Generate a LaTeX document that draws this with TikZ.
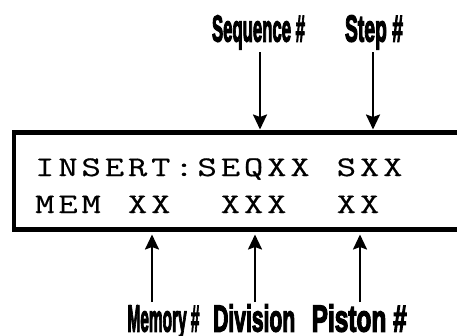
\documentclass[tikz,border=0pt]{standalone}
\usepackage{fontspec}
\usetikzlibrary{arrows.meta}
\newfontfamily\labfont{Liberation Sans Bold}[FakeBold=4]
\newfontfamily\lcdfam{Latin Modern Mono}[FakeBold=0.4]
\def\lcdstop{LCDSTOP}
\newcommand\lcdtext[1]{\lcdloop#1\lcdstop}
\def\lcdloop#1{\ifx#1\lcdstop\else\makebox[23.2pt]{\scalebox{1.32}[1]{#1}}\expandafter\lcdloop\fi}
\newcommand\labw[2]{\resizebox{#1}{\height}{#2}}
\tikzset{
  lcdfont/.style={anchor=base west, inner sep=0pt, font=\fontsize{28.5}{30}\selectfont\lcdfam},
  lab/.style={anchor=base, inner sep=0pt, font=\fontsize{37.5}{40}\selectfont\labfont},
  ptr/.style={line width=2.2pt, -{Stealth[length=15pt, width=14pt, inset=2.5pt]}},
  frame/.style={line width=4.8pt}
}
\begin{document}
\begin{tikzpicture}[x=1pt, y=-1pt]
\useasboundingbox (0,0) rectangle (457,335);
\clip (0,0) rectangle (457,335);
\draw[frame] (480,132.5) -- (14,132.5) -- (14,229.5) -- (480,229.5);
\node[lcdfont] (line1) at (33,176) {\lcdtext{INSERT:SEQXX~SXX}};
\node[lcdfont] (line2) at (33,213) {\lcdtext{MEM~XX~~XXX~~XX}};
% top labels
\node[lab] (seq) at (258.5,41.5) {\labw{93pt}{Sequence \#}};
\node[lab] (step) at (374,41.5) {\labw{58pt}{Step \#}};
% bottom labels
\node[lab] (mem) at (163.5,331.5) {\labw{72pt}{Memory \#}};
\node[lab] (div) at (254.2,331.5) {\labw{82pt}{Division}};
\node[lab] (pis) at (359.2,331.5) {\labw{95pt}{Piston \#}};
% arrow ends
\coordinate (seqs) at (260,52);
\coordinate (seqt) at (260,129.5);
\coordinate (steps) at (373,52);
\coordinate (stept) at (373,129.5);
\coordinate (mems) at (152,302);
\coordinate (memt) at (152,234.5);
\coordinate (divs) at (255,302);
\coordinate (divt) at (255,234.5);
\coordinate (piss) at (360,302);
\coordinate (pist) at (360,234.5);
\draw[ptr] (seqs) -- (seqt);
\draw[ptr] (steps) -- (stept);
\draw[ptr] (mems) -- (memt);
\draw[ptr] (divs) -- (divt);
\draw[ptr] (piss) -- (pist);
\end{tikzpicture}
\end{document}
